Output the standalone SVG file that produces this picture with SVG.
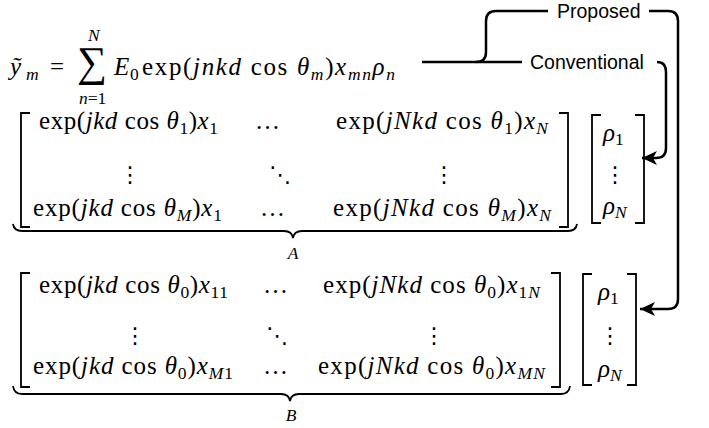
<svg xmlns="http://www.w3.org/2000/svg" width="709" height="428" viewBox="0 0 709 428">
<style>
.m{font-family:"Liberation Serif","Times New Roman",serif;font-size:25px;fill:#000}
.i{font-style:italic}
.s{font-size:17.5px}
.d{font-family:"DejaVu Serif","DejaVu Sans",serif;font-size:22px;fill:#000}
.sans{font-family:"Liberation Sans",Arial,sans-serif;font-size:19.5px;fill:#000}
.br{fill:none;stroke:#000;stroke-width:1.8}
.conn{fill:none;stroke:#000;stroke-width:2.5;stroke-linejoin:round}
</style>
<defs>
<marker id="arr" markerUnits="userSpaceOnUse" markerWidth="16" markerHeight="14" refX="15" refY="7" orient="auto">
<path d="M0,0 L15,7 L0,14 L4,7 Z" fill="#000"/>
</marker>
</defs>
<rect width="709" height="428" fill="#fff"/>

<g id="equation">
<text class="m i" x="10" y="75">ỹ</text>
<text class="m s i" x="26" y="80">m</text>
<text class="m" x="50" y="75">=</text>
<text class="m" x="77" y="76" style="font-size:42px">∑</text>
<text class="m s i" x="88" y="41">N</text>
<text class="m s" x="79" y="104"><tspan class="i">n</tspan>=1</text>
<text class="m i" x="114" y="75">E</text>
<text class="m s" x="130" y="80">0</text>
<text class="m" x="142" y="75" textLength="253">exp(<tspan class="i">jnkd</tspan> cos <tspan class="i">θ</tspan><tspan class="s i" dy="5">m</tspan><tspan dy="-5">)</tspan><tspan class="i">x</tspan><tspan class="s i" dy="5">mn</tspan><tspan class="i" dy="-5">ρ</tspan><tspan class="s i" dy="5">n</tspan></text>
</g>

<g id="matrixA">
<path class="br" d="M30,113 H21 V227 H30"/>
<path class="br" d="M559,113 H568 V227 H559"/>
<text class="m" x="39" y="129" textLength="179">exp(<tspan class="i">jkd</tspan> cos <tspan class="i">θ</tspan><tspan class="s" dy="5">1</tspan><tspan dy="-5">)</tspan><tspan class="i">x</tspan><tspan class="s" dy="5">1</tspan></text>
<text class="m" x="255" y="129">…</text>
<text class="m" x="336" y="129" textLength="212">exp(<tspan class="i">jNkd</tspan> cos <tspan class="i">θ</tspan><tspan class="s" dy="5">1</tspan><tspan dy="-5">)</tspan><tspan class="i">x</tspan><tspan class="s i" dy="5">N</tspan></text>
<text class="d" x="130" y="182" text-anchor="middle">⋮</text>
<text class="d" x="280" y="182" text-anchor="middle">⋱</text>
<text class="d" x="444" y="182" text-anchor="middle">⋮</text>
<text class="m" x="33" y="216" textLength="189">exp(<tspan class="i">jkd</tspan> cos <tspan class="i">θ</tspan><tspan class="s i" dy="5">M</tspan><tspan dy="-5">)</tspan><tspan class="i">x</tspan><tspan class="s" dy="5">1</tspan></text>
<text class="m" x="260" y="216">…</text>
<text class="m" x="333" y="216" textLength="218">exp(<tspan class="i">jNkd</tspan> cos <tspan class="i">θ</tspan><tspan class="s i" dy="5">M</tspan><tspan dy="-5">)</tspan><tspan class="i">x</tspan><tspan class="s i" dy="5">N</tspan></text>
<path class="br" d="M13,224 Q14,231 22,231 H284 Q292,231 293,238 Q294,231 302,231 H568 Q576,231 577,224"/>
<text class="m i" x="293" y="259" text-anchor="middle" style="font-size:17.5px">A</text>
</g>

<g id="vectorA">
<path class="br" d="M601,115 H592 V223 H601"/>
<path class="br" d="M635,115 H644 V223 H635"/>
<text class="m" x="603" y="141"><tspan class="i">ρ</tspan><tspan class="s" dy="4">1</tspan></text>
<text class="d" x="615" y="182" text-anchor="middle">⋮</text>
<text class="m" x="603" y="214"><tspan class="i">ρ</tspan><tspan class="s i" dy="4">N</tspan></text>
</g>

<g id="matrixB">
<path class="br" d="M30,273 H21 V387 H30"/>
<path class="br" d="M551,273 H560 V387 H551"/>
<text class="m" x="39" y="293" textLength="189">exp(<tspan class="i">jkd</tspan> cos <tspan class="i">θ</tspan><tspan class="s" dy="5">0</tspan><tspan dy="-5">)</tspan><tspan class="i">x</tspan><tspan class="s" dy="5">11</tspan></text>
<text class="m" x="263" y="293">…</text>
<text class="m" x="323" y="293" textLength="217">exp(<tspan class="i">jNkd</tspan> cos <tspan class="i">θ</tspan><tspan class="s" dy="5">0</tspan><tspan dy="-5">)</tspan><tspan class="i">x</tspan><tspan class="s" dy="5">1<tspan class="i">N</tspan></tspan></text>
<text class="d" x="135" y="343" text-anchor="middle">⋮</text>
<text class="d" x="277" y="343" text-anchor="middle">⋱</text>
<text class="d" x="434" y="343" text-anchor="middle">⋮</text>
<text class="m" x="33" y="374" textLength="200">exp(<tspan class="i">jkd</tspan> cos <tspan class="i">θ</tspan><tspan class="s" dy="5">0</tspan><tspan dy="-5">)</tspan><tspan class="i">x</tspan><tspan class="s" dy="5"><tspan class="i">M</tspan>1</tspan></text>
<text class="m" x="263" y="374">…</text>
<text class="m" x="318" y="374" textLength="227">exp(<tspan class="i">jNkd</tspan> cos <tspan class="i">θ</tspan><tspan class="s" dy="5">0</tspan><tspan dy="-5">)</tspan><tspan class="i">x</tspan><tspan class="s i" dy="5">MN</tspan></text>
<path class="br" d="M13,386 Q14,394 22,394 H281 Q289,394 290,401 Q291,394 299,394 H561 Q569,394 570,386"/>
<text class="m i" x="291" y="421" text-anchor="middle" style="font-size:17.5px">B</text>
</g>

<g id="vectorB">
<path class="br" d="M592,274 H583 V385 H592"/>
<path class="br" d="M627,274 H636 V385 H627"/>
<text class="m" x="598" y="300"><tspan class="i">ρ</tspan><tspan class="s" dy="4">1</tspan></text>
<text class="d" x="610" y="343" text-anchor="middle">⋮</text>
<text class="m" x="598" y="377"><tspan class="i">ρ</tspan><tspan class="s i" dy="4">N</tspan></text>
</g>

<g id="labels">
<text class="sans" x="557" y="18">Proposed</text>
<text class="sans" x="530" y="69">Conventional</text>
</g>

<g id="connectors">
<path class="conn" d="M422,62 H522"/>
<path class="conn" d="M476,62 Q486,62 486,52 V21 Q486,11 496,11 H548"/>
<path class="conn" d="M649,11 H668 Q678,11 678,21 V299 Q678,309 668,309 H640" marker-end="url(#arr)"/>
<path class="conn" d="M657,62 Q666,62 666,72 V148 Q666,158 656,158 H642" marker-end="url(#arr)"/>
</g>
</svg>
